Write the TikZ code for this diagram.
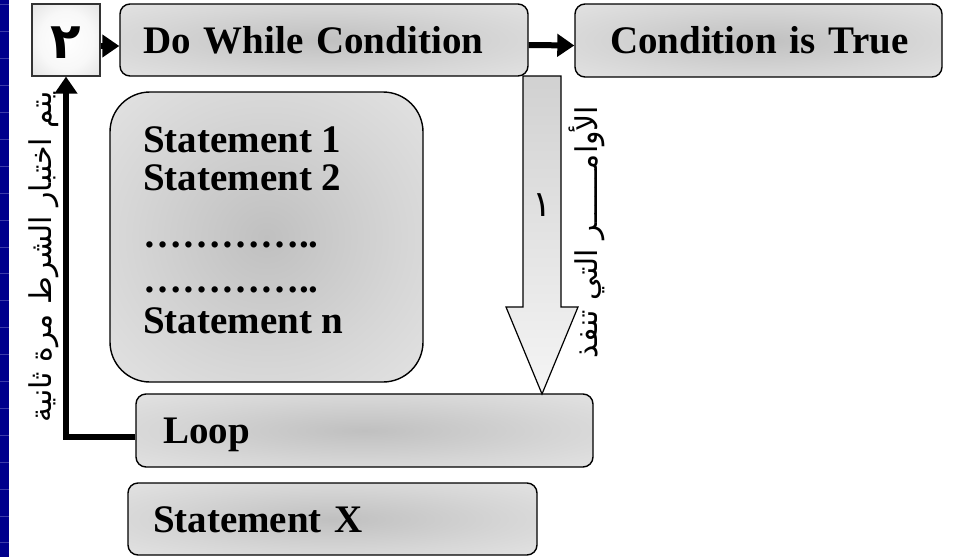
\documentclass[tikz,border=0pt]{standalone}
\usepackage{fontspec}
\setmainfont{Liberation Serif}
\newfontfamily\arabicfont[Script=Arabic]{DejaVu Sans}
\TeXXeTstate=1
\usetikzlibrary{arrows.meta}

\definecolor{stripe}{RGB}{0,0,140}
\definecolor{stripeline}{RGB}{60,60,170}
\definecolor{glowdark}{RGB}{192,192,192}
\definecolor{glowmid}{RGB}{214,214,214}
\definecolor{glowlight}{RGB}{230,230,230}
\definecolor{keyedge}{RGB}{208,208,208}

% soft grey glow: darker centre, light rim
\pgfdeclareradialshading{panelglow}{\pgfpoint{0bp}{0bp}}{%
  color(0bp)=(glowdark); color(22bp)=(glowmid); color(40bp)=(glowlight); color(80bp)=(glowlight)}
% key box: bright centre, grey rim
\pgfdeclareradialshading{keyglow}{\pgfpoint{0bp}{0bp}}{%
  color(0bp)=(white); color(20bp)=(white!85!keyedge); color(50bp)=(keyedge); color(80bp)=(keyedge)}

\tikzset{
  panel/.style={draw=black, line width=1.4pt, rounded corners=10pt, shading=panelglow,
    inner ysep=0pt, text height=26pt, text depth=0pt, align=left,
    font=\fontsize{39}{46}\selectfont\bfseries},
  keybox/.style={draw=black!80, line width=1.2pt, shading=keyglow, inner sep=0pt,
    minimum width=68pt, minimum height=72pt},
  flow/.style={line width=6pt, -{Triangle[length=17pt,width=22pt]}},
  stline/.style={anchor=base west, inner sep=0pt, font=\fontsize{39}{46}\selectfont\bfseries},
  arlabel/.style={rotate=90, inner sep=0pt, font=\arabicfont\fontsize{30}{36}\selectfont},
  digit/.style={inner sep=0pt, font=\arabicfont\bfseries\fontsize{50}{56}\selectfont}
}

\begin{document}
\begin{tikzpicture}[x=1pt,y=-1pt]
\useasboundingbox (0,0) rectangle (960,557);

% slide edge stripe
\fill[stripe] (0,0) rectangle (9,557);
\foreach \k in {0,...,20}
  \draw[stripeline, line width=0.8pt] (0,4.8+26.9*\k) -- (9,4.8+26.9*\k);

% boxes
\node[keybox] (key) at (66,40) {};
\node[digit] (two) at (66,43) {\beginR ٢\endR};

\node[panel, text width=362pt, inner xsep=23pt, minimum height=72pt] (dowhile) at (324,40) {\mbox{Do While Condition}};
\node[panel, text width=297pt, inner xsep=35pt, minimum height=73pt] (cond) at (758.5,40.5) {\mbox{Condition is True}};

\node[draw=black, line width=1.4pt, rounded corners=40pt, shading=panelglow,
      minimum width=313pt, minimum height=290pt, inner sep=0pt] (stmts) at (266.5,237) {};
\node[stline] (s1) at (143,152) {Statement 1};
\node[stline] (s2) at (143,190) {Statement 2};
\node[stline] (d1) at (143,247) {…………..};
\node[stline] (d2) at (143,292) {…………..};
\node[stline] (sn) at (143,333) {Statement n};

\node[panel, text width=403pt, inner xsep=27pt, minimum height=73pt] (loop) at (364.5,430.5) {Loop};
\node[panel, text width=359pt, inner xsep=25pt, minimum height=72pt] (stmtx) at (332.5,519) {Statement X};

% connectors
\draw[flow] ([yshift=-6pt]key.east) -- ([yshift=-6pt]dowhile.west);
\draw[flow] ([yshift=-5pt]dowhile.east) -- ([yshift=-5pt]cond.west);
\draw[flow] ([yshift=-6pt]loop.west) -| (key.south);

% block arrow into the loop body
\coordinate (tip) at (542,394);
\path[draw=black, line width=1.2pt, top color=black!18, bottom color=black!4]
  (523,76) -- (561,76) -- (561,307) -- (578,307) -- (tip) -- (506,307) -- (523,307) -- cycle;
\node[digit, font=\arabicfont\fontsize{36}{40}\selectfont] (one) at (542,205) {\beginR ١\endR};

% side captions
\node[arlabel] (again) at (44,257) {\beginR يتم اختبار الشرط مرة ثانية\endR};
\node[arlabel] (run) at (587,232) {\beginR الأوامــــــر التي تنفذ\endR};
\end{tikzpicture}
\end{document}
